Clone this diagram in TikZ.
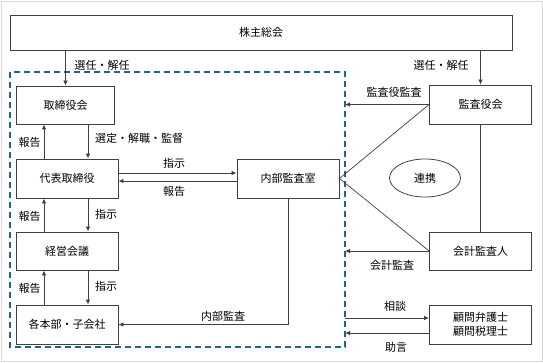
\documentclass[tikz,border=0pt]{standalone}
\usepackage{fontspec}
\setmainfont{Noto Sans CJK JP}
\usetikzlibrary{arrows.meta,shapes.geometric}
\definecolor{boxline}{RGB}{64,64,64}
\definecolor{dashblue}{RGB}{31,100,140}
\begin{document}
\begin{tikzpicture}[x=1pt,y=-1pt,
  font=\fontsize{11}{13}\selectfont,
  box/.style={draw=boxline,line width=0.9pt,minimum width=102pt,minimum height=39pt,inner sep=1pt,align=center},
  arr/.style={draw=boxline,line width=0.8pt,-{Latex[length=5pt,width=4.5pt]}},
  ln/.style={draw=boxline,line width=0.7pt},
  lbl/.style={inner sep=1pt}]
\useasboundingbox (0,0) rectangle (543,362);
\draw[black!15,line width=0.8pt] (1,1) rectangle (542,361);
% dashed frame
\draw[dashblue,line width=1.3pt,dash pattern=on 6pt off 4pt] (10,72) rectangle (345,347);
% nodes
\node[box,minimum width=502pt,minimum height=35pt] (top) at (261,32.5) {株主総会};
\node[box,minimum width=98pt,minimum height=38pt] (bod) at (65.5,105) {取締役会};
\node[box] (rep) at (67,178.5) {代表取締役};
\node[box,minimum height=38pt] (mgmt) at (67,251) {経営会議};
\node[box] (div) at (67,324.5) {各本部・子会社};
\node[box] (ia) at (288,178.5) {内部監査室};
\node[box] (kansa) at (480.5,104.5) {監査役会};
\node[box,minimum height=38pt] (acct) at (480.5,251) {会計監査人};
\node[box,font=\fontsize{11}{14.5}\selectfont] (adv) at (480.5,324.5) {顧問弁護士\\顧問税理士};
\node[draw=boxline,line width=0.8pt,ellipse,minimum width=71pt,minimum height=38pt] (renkei) at (425,178) {連携};
% helper coordinates
\coordinate (xl) at (44,0);
\coordinate (xr) at (88,0);
\coordinate (xd) at (345,0);
\coordinate (ya) at (0,173);
\coordinate (yb) at (0,181);
\coordinate (yc) at (0,318);
\coordinate (yd) at (0,333);
% shareholders
\draw[arr] (top.south -| bod.north) -- (bod.north);
\node[lbl] (l1) at (102,65) {選任・解任};
\draw[arr] (top.south -| kansa.north) -- (kansa.north);
\node[lbl] (l2) at (441,65) {選任・解任};
% board <-> rep
\draw[arr] (rep.north -| xl) -- (bod.south -| xl);
\draw[arr] (bod.south -| xr) -- (rep.north -| xr);
\node[lbl] (l3) at (29.5,142) {報告};
\node[lbl,anchor=west] (l4) at (94,138) {選定・解職・監督};
% rep <-> mgmt
\draw[arr] (mgmt.north -| xl) -- (rep.south -| xl);
\draw[arr] (rep.south -| xr) -- (mgmt.north -| xr);
\node[lbl] (l5) at (29.5,216) {報告};
\node[lbl] (l6) at (106,214) {指示};
% mgmt <-> div
\draw[arr] (div.north -| xl) -- (mgmt.south -| xl);
\draw[arr] (mgmt.south -| xr) -- (div.north -| xr);
\node[lbl] (l7) at (29.5,288) {報告};
\node[lbl] (l8) at (106,286) {指示};
% rep <-> internal audit
\draw[arr] (rep.east |- ya) -- (ia.west |- ya);
\draw[arr] (ia.west |- yb) -- (rep.east |- yb);
\node[lbl] (l9) at (174,163) {指示};
\node[lbl] (l10) at (174,191) {報告};
% internal audit -> divisions
\draw[arr] (ia.south) |- (div.east);
\node[lbl] (l11) at (223,316) {内部監査};
% collaboration lines
\draw[ln] (ia.east) -- (kansa.west);
\draw[ln] (ia.east) -- (acct.west);
\draw[ln] (kansa.south) -- (acct.north);
% audits
\draw[arr] (kansa.west) -- (kansa.west -| xd);
\node[lbl] (l12) at (394,92) {監査役監査};
\draw[arr] (acct.west) -- (acct.west -| xd);
\node[lbl] (l13) at (392,265) {会計監査};
% advisors
\draw[arr] (xd |- yc) -- (adv.west |- yc);
\draw[arr] (adv.west |- yd) -- (xd |- yd);
\node[lbl] (l14) at (395,306) {相談};
\node[lbl] (l15) at (396,347) {助言};
\end{tikzpicture}
\end{document}
